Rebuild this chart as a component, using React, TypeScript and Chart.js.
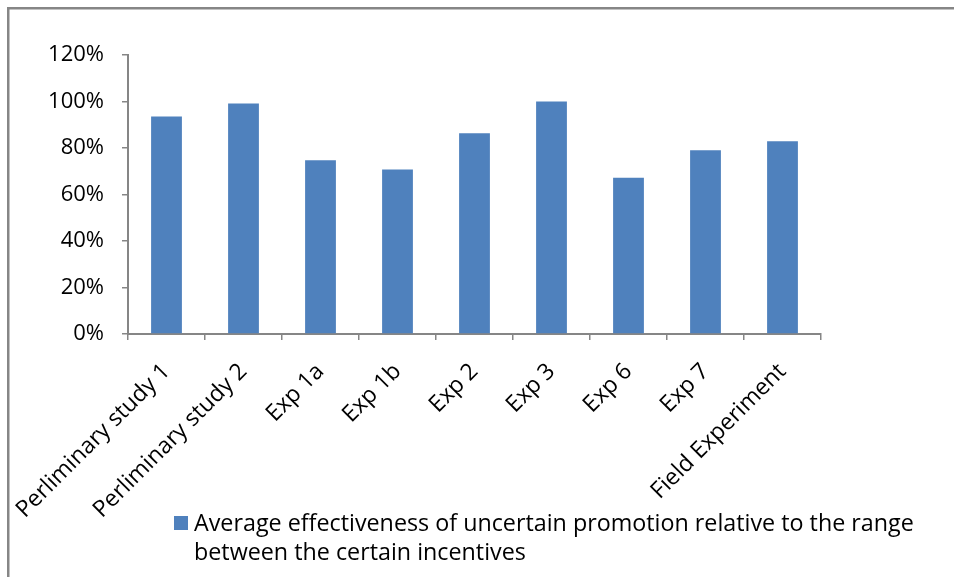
import React, { useEffect, useRef } from "react";
import { Chart, registerables } from "chart.js";

Chart.register(...registerables);

const categories = [
  "Perliminary study 1",
  "Perliminary study 2",
  "Exp 1a",
  "Exp 1b",
  "Exp 2",
  "Exp 3",
  "Exp 6",
  "Exp 7",
  "Field Experiment",
];
const effectiveness = [0.935, 0.991, 0.747, 0.708, 0.863, 1.0, 0.672, 0.79, 0.829];
const legendLines = [
  "Average effectiveness of uncertain promotion relative to the range",
  "between the certain incentives",
];
const yTicksMin = 0;
const yTicksMax = 1.2;
const yTicksStep = 0.2;

const FONT = "'Open Sans', Lato, sans-serif";
const BAR = "#4F81BD";
const AXIS = "#868686";

export default function App() {
  const ref = useRef<HTMLCanvasElement | null>(null);

  useEffect(() => {
    if (!ref.current) return;
    const frame = {
      id: "frame",
      beforeDraw(chart: any) {
        const ctx = chart.ctx;
        ctx.save();
        ctx.fillStyle = "#ffffff";
        ctx.fillRect(0, 0, chart.width, chart.height);
        ctx.strokeStyle = AXIS;
        ctx.lineWidth = 2.5;
        ctx.strokeRect(8.25, 8.25, 2000, 2000);
        ctx.restore();
      },
    };
    const legendPlugin = {
      id: "wrapLegend",
      afterDraw(chart: any) {
        const ctx = chart.ctx;
        ctx.save();
        ctx.fillStyle = BAR;
        ctx.fillRect(174, 516, 14, 14);
        ctx.fillStyle = "#000000";
        ctx.font = `23.3px ${FONT}`;
        ctx.textBaseline = "alphabetic";
        ctx.textAlign = "left";
        legendLines.forEach((line, i) => {
          ctx.fillText(line, 194, 531 + i * 29);
        });
        ctx.restore();
      },
    };
    const chart = new Chart(ref.current, {
      type: "bar",
      data: {
        labels: categories,
        datasets: [
          {
            label: legendLines.join(" "),
            data: effectiveness,
            backgroundColor: BAR,
            borderWidth: 0,
            barPercentage: 0.4,
            categoryPercentage: 1,
          },
        ],
      },
      options: {
        animation: false,
        responsive: false,
        maintainAspectRatio: false,
        layout: { padding: { left: 0, top: 55, right: 133, bottom: 0 } },
        plugins: {
          legend: { display: false },
          tooltip: { enabled: false },
          title: { display: false },
        },
        scales: {
          x: {
            afterFit(scale: any) {
              scale.height = 577 - 334;
              scale.paddingLeft = 0;
              scale.paddingRight = 0;
            },
            grid: {
              display: true,
              drawOnChartArea: false,
              drawTicks: true,
              tickLength: 6,
              offset: true,
              color: AXIS,
              lineWidth: 1.5,
            },
            border: { display: true, color: AXIS, width: 2 },
            ticks: {
              minRotation: 45,
              maxRotation: 45,
              autoSkip: false,
              color: "#000000",
              padding: 18,
              font: { family: FONT, size: 23 },
            },
          },
          y: {
            min: yTicksMin,
            max: yTicksMax,
            afterFit(scale: any) {
              scale.width = 128;
              scale.paddingTop = 0;
              scale.paddingBottom = 0;
            },
            grid: {
              display: true,
              drawOnChartArea: false,
              drawTicks: true,
              tickLength: 6,
              color: AXIS,
              lineWidth: 1.5,
            },
            border: { display: true, color: AXIS, width: 2 },
            ticks: {
              stepSize: yTicksStep,
              color: "#000000",
              padding: 18,
              font: { family: FONT, size: 22 },
              callback: (v: any) => `${Math.round(Number(v) * 100)}%`,
            },
          },
        },
      },
      plugins: [frame, legendPlugin],
    });
    return () => chart.destroy();
  }, []);

  return (
    <div style={{ position: "fixed", left: 0, top: 0, width: 954, height: 577 }}>
      <canvas ref={ref} width={954} height={577} style={{ display: "block" }} />
    </div>
  );
}
